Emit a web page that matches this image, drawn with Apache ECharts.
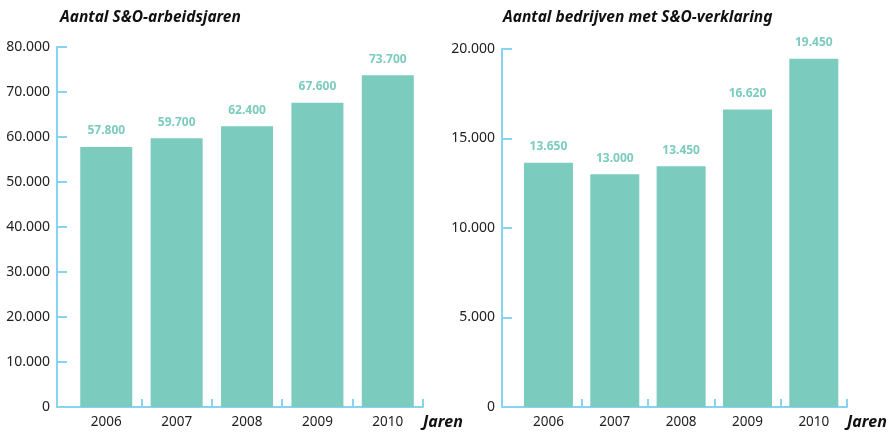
<!DOCTYPE html>
<html>
<head>
<meta charset="utf-8">
<script src="https://cdn.jsdelivr.net/npm/echarts@6/dist/echarts.min.js"></script>
<style>
  html, body { margin: 0; padding: 0; background: #fff; }
  #main { width: 892px; height: 433px; }
</style>
</head>
<body>
<div id="main"></div>
<script>
// jaren en waarden
const years = [2006, 2007, 2008, 2009, 2010]
const arbeidsjaren = [57800, 59700, 62400, 67600, 73700]
const bedrijven = [13650, 13000, 13450, 16620, 19450]
const leftTitle = 'Aantal S&O-arbeidsjaren'
const rightTitle = 'Aantal bedrijven met S&O-verklaring'
const xName = 'Jaren'

const teal = '#7bcbbe'
const axisBlue = '#86d3f2'
const font = 'Noto Sans'

// 57800 -> 57.800
function fmt(v) {
    return String(v).replace(/\B(?=(\d{3})+(?!\d))/g, '.')
}

// grenzen tussen de jaren voor de streepjes op de x-as
const boundaries = years.map(y => y + 0.5)

function makeX(gridIndex) {
    return {
        type: 'value',
        gridIndex: gridIndex,
        min: 2005.3,
        max: 2010.5,
        name: xName,
        nameLocation: 'end',
        nameGap: 0,
        nameTextStyle: {
            fontFamily: font, fontSize: 16, fontWeight: 'bold', fontStyle: 'italic',
            color: '#111', align: 'left', verticalAlign: 'top', padding: [7, 0, 0, 0]
        },
        splitLine: { show: false },
        axisLine: { show: true, lineStyle: { color: axisBlue, width: 2 } },
        axisTick: { show: true, inside: true, length: 8, customValues: boundaries, lineStyle: { color: axisBlue, width: 2 } },
        axisLabel: {
            customValues: years, formatter: v => String(v), margin: 8,
            fontFamily: font, fontSize: 13.5, color: '#222', showMinLabel: true, showMaxLabel: true
        }
    }
}

function makeY(gridIndex, max, interval) {
    return {
        type: 'value',
        gridIndex: gridIndex,
        min: 0,
        max: max,
        interval: interval,
        splitLine: { show: false },
        axisLine: { show: true, lineStyle: { color: axisBlue, width: 2 } },
        axisTick: { show: true, inside: true, length: 10, lineStyle: { color: axisBlue, width: 2 } },
        axisLabel: { formatter: fmt, margin: 7, fontFamily: font, fontSize: 14, color: '#222' }
    }
}

function makeBar(idx, values, width) {
    return {
        type: 'bar',
        xAxisIndex: idx,
        yAxisIndex: idx,
        barWidth: width,
        data: years.map((y, i) => [y, values[i]]),
        itemStyle: { color: teal },
        label: {
            show: true, position: 'top', distance: 10,
            formatter: p => fmt(p.value[1]),
            fontFamily: font, fontSize: 12, fontWeight: 'bold', color: teal
        },
        silent: true
    }
}

const chart = echarts.init(document.getElementById('main'))
chart.setOption({
    animation: false,
    title: [
        { text: leftTitle, left: 55, top: 5, textStyle: { fontFamily: font, fontSize: 15.5, fontWeight: 'bold', fontStyle: 'italic', color: '#111' } },
        { text: rightTitle, left: 498, top: 5, textStyle: { fontFamily: font, fontSize: 15.5, fontWeight: 'bold', fontStyle: 'italic', color: '#111' } }
    ],
    grid: [
        { left: 57, right: 469, top: 47, bottom: 26 },
        { left: 502, right: 45, top: 49, bottom: 26 }
    ],
    xAxis: [makeX(0), makeX(1)],
    yAxis: [makeY(0, 80000, 10000), makeY(1, 20000, 5000)],
    series: [makeBar(0, arbeidsjaren, 52), makeBar(1, bedrijven, 49)]
})
</script>
</body>
</html>
